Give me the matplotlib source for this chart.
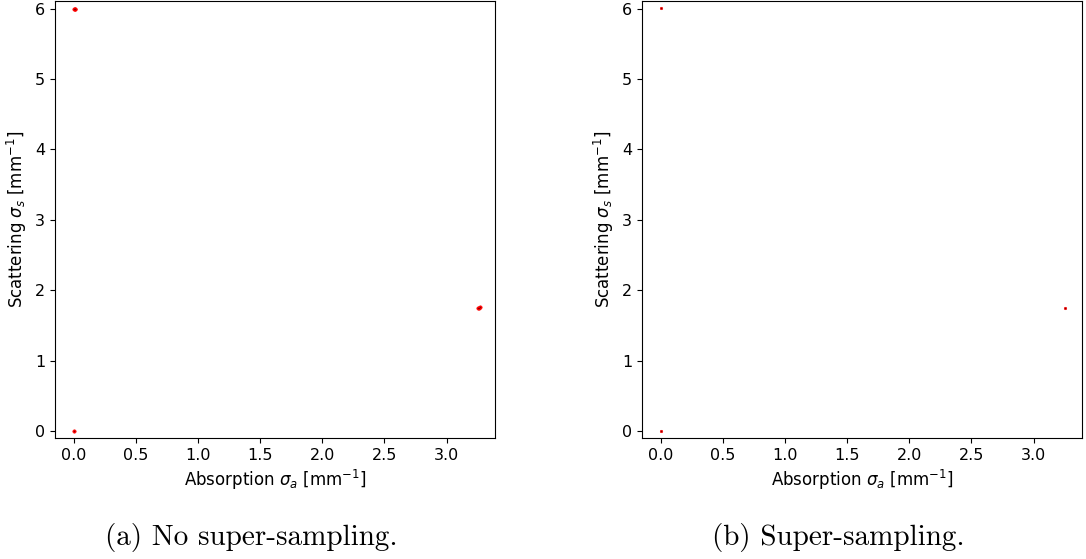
import matplotlib
matplotlib.use("Agg")
import matplotlib.pyplot as plt

# Estimated (absorption, scattering) coefficients per sample, in mm^-1
no_ss_absorption = [0.004, 0.008, 0.012, 3.252, 3.260, 3.268, 0.004]
no_ss_scattering = [5.995, 6.000, 5.990, 1.749, 1.752, 1.755, 0.000]

ss_absorption = [0.005, 3.250, 0.000]
ss_scattering = [6.010, 1.750, 0.000]

x_ticks = [0.0, 0.5, 1.0, 1.5, 2.0, 2.5, 3.0]
y_ticks = [0, 1, 2, 3, 4, 5, 6]

captions = ["(a) No super-sampling.", "(b) Super-sampling."]

fig = plt.figure(figsize=(10.86, 5.59), dpi=100)
ax_a = fig.add_axes([55 / 1086, 1 - 438 / 559, 440 / 1086, 437 / 559])
ax_b = fig.add_axes([642 / 1086, 1 - 438 / 559, 440 / 1086, 437 / 559])

ax_a.scatter(no_ss_absorption, no_ss_scattering, s=6, c="red",
             edgecolors="red", linewidths=0.4, zorder=3)
ax_a.scatter(no_ss_absorption, no_ss_scattering, s=1, c="darkred",
             linewidths=0, zorder=4)
ax_b.scatter(ss_absorption, ss_scattering, s=3, c="darkred",
             edgecolors="red", linewidths=0.5, zorder=3)

for ax in (ax_a, ax_b):
    ax.set_xlim(-0.15, 3.39)
    ax.set_ylim(-0.10, 6.11)
    ax.set_xticks(x_ticks)
    ax.set_yticks(y_ticks)
    ax.tick_params(labelsize=11.5)
    ax.set_xlabel(r"Absorption $\sigma_a$ [mm$^{-1}$]", fontsize=12)
    ax.set_ylabel(r"Scattering $\sigma_s$ [mm$^{-1}$]", fontsize=12)

fig.text(251 / 1086, 1 - 537 / 559, captions[0], family="cmr10",
         fontsize=21, ha="center", va="center")
fig.text(838 / 1086, 1 - 537 / 559, captions[1], family="cmr10",
         fontsize=21, ha="center", va="center")

fig.savefig("out.png", dpi=100)
